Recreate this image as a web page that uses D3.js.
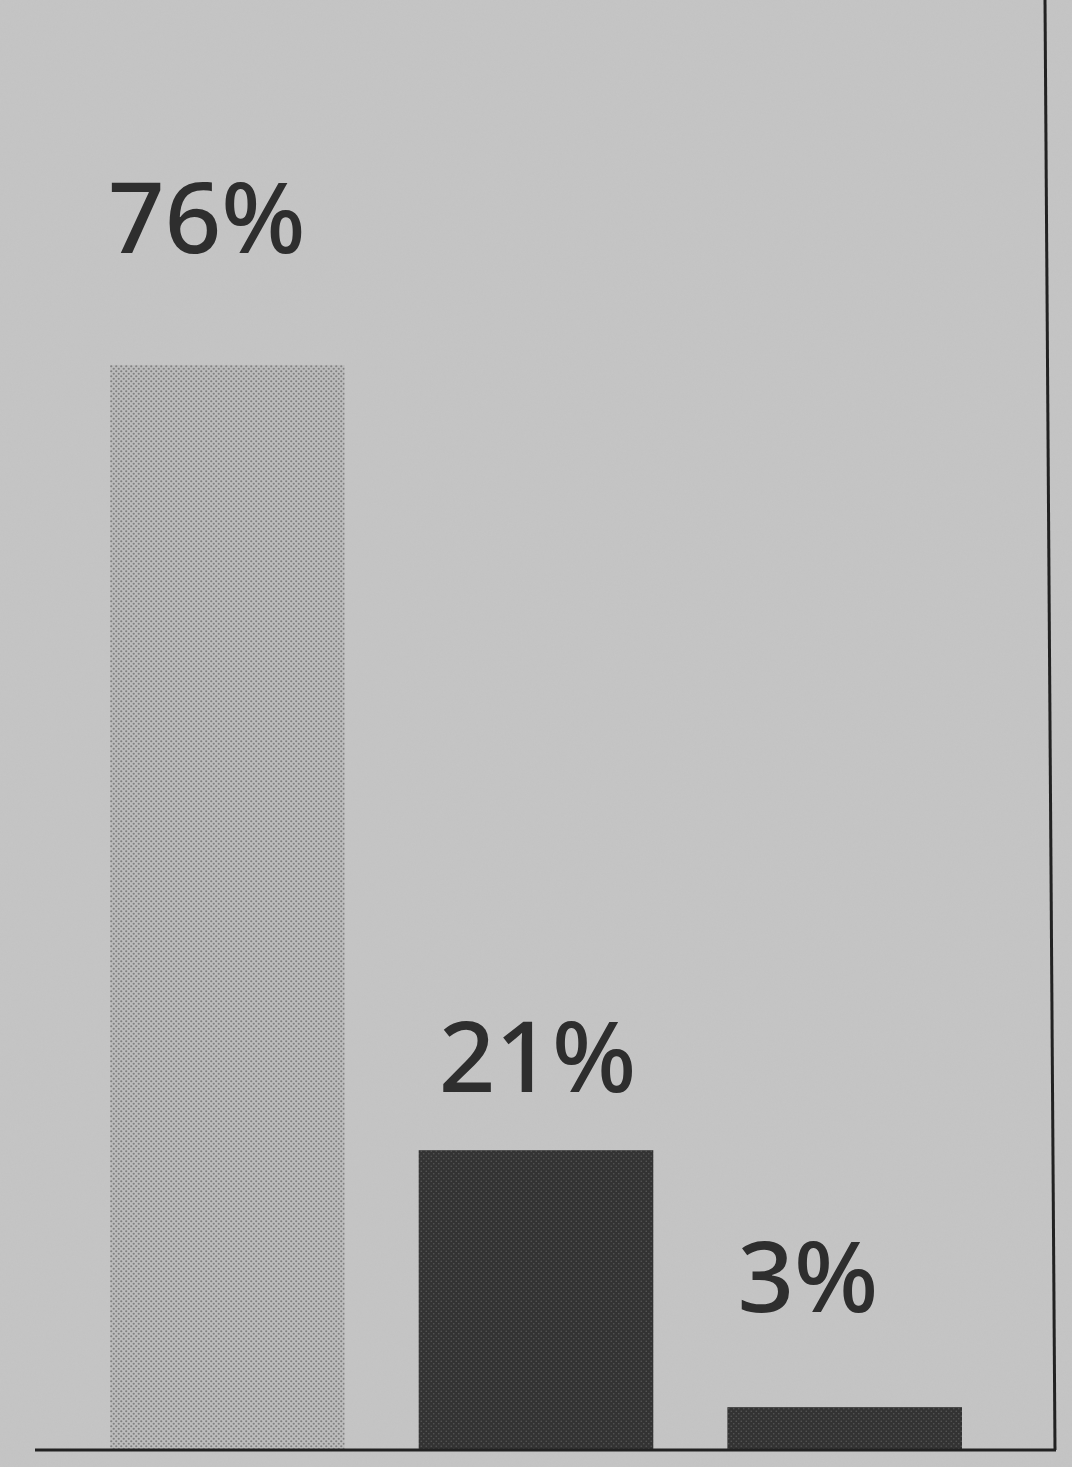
<!DOCTYPE html>
<html>
<head>
<meta charset="utf-8">
<script src="https://cdn.jsdelivr.net/npm/d3@7"></script>
<style>
  html, body { margin: 0; padding: 0; background: #c5c5c5; }
  svg { display: block; }
</style>
</head>
<body>
<div id="chart"></div>
<script>
const categories = ['a', 'b', 'c'];
const shares = [76, 21, 3];
const shareLabels = ['76%', '21%', '3%'];

// Per-bar label nudges taken off the print (the labels are not set consistently).
const labelShift = [
  { dx: -2, dy: -112 },
  { dx: 20, dy: -58 },
  { dx: 10, dy: -95 },
];

const width = 1072;
const height = 1467;
const baseline = 1450;

const svg = d3.select('#chart')
  .append('svg')
  .attr('width', width)
  .attr('height', height);

const defs = svg.append('defs');

// Paper grain.
const grain = defs.append('filter').attr('id', 'grain').attr('x', 0).attr('y', 0).attr('width', 1).attr('height', 1);
grain.append('feTurbulence').attr('type', 'fractalNoise').attr('baseFrequency', 0.6).attr('numOctaves', 2).attr('seed', 4);
grain.append('feColorMatrix').attr('type', 'matrix')
  .attr('values', '0 0 0 0 0.5  0 0 0 0 0.5  0 0 0 0 0.5  0 0 0 0.35 0');

// Halftone screens for the two bar tones.
const lightDots = defs.append('pattern').attr('id', 'lightDots')
  .attr('width', 5).attr('height', 5).attr('patternUnits', 'userSpaceOnUse');
lightDots.append('rect').attr('width', 5).attr('height', 5).attr('fill', '#bcbcbc');
lightDots.append('circle').attr('cx', 1.25).attr('cy', 1.25).attr('r', 1.1).attr('fill', '#808080');
lightDots.append('circle').attr('cx', 3.75).attr('cy', 3.75).attr('r', 1.1).attr('fill', '#808080');

const darkDots = defs.append('pattern').attr('id', 'darkDots')
  .attr('width', 5).attr('height', 5).attr('patternUnits', 'userSpaceOnUse');
darkDots.append('rect').attr('width', 5).attr('height', 5).attr('fill', '#333');
darkDots.append('circle').attr('cx', 1.25).attr('cy', 1.25).attr('r', 0.8).attr('fill', '#555');
darkDots.append('circle').attr('cx', 3.75).attr('cy', 3.75).attr('r', 0.8).attr('fill', '#555');

svg.append('rect').attr('width', width).attr('height', height).attr('fill', '#c5c5c5');
svg.append('rect').attr('width', width).attr('height', height).attr('filter', 'url(#grain)').attr('opacity', 0.6);

const x = d3.scaleBand()
  .domain(categories)
  .range([110, 962])
  .paddingInner(0.24)
  .paddingOuter(0);

const y = d3.scaleLinear()
  .domain([0, 76])
  .range([baseline, 365]);

const data = categories.map((key, i) => ({ key, value: shares[i], label: shareLabels[i], i }));

svg.append('g')
  .selectAll('rect')
  .data(data)
  .join('rect')
  .attr('x', d => x(d.key))
  .attr('y', d => y(d.value))
  .attr('width', x.bandwidth())
  .attr('height', d => y(0) - y(d.value))
  .attr('fill', d => d.i === 0 ? 'url(#lightDots)' : 'url(#darkDots)');

svg.append('g')
  .selectAll('text')
  .data(data)
  .join('text')
  .attr('x', d => x(d.key) + labelShift[d.i].dx)
  .attr('y', d => y(d.value) + labelShift[d.i].dy)
  .attr('fill', '#2e2e2e')
  .attr('font-family', '"Noto Sans", "DejaVu Sans", sans-serif')
  .attr('font-weight', 500)
  .attr('font-size', 99)
  .text(d => d.label);

// Baseline and right-hand frame rule.
svg.append('line')
  .attr('x1', 35).attr('x2', 1056)
  .attr('y1', y(0)).attr('y2', y(0))
  .attr('stroke', '#222').attr('stroke-width', 3);

svg.append('line')
  .attr('x1', 1045).attr('x2', 1055)
  .attr('y1', 0).attr('y2', y(0))
  .attr('stroke', '#222').attr('stroke-width', 3);
</script>
</body>
</html>
